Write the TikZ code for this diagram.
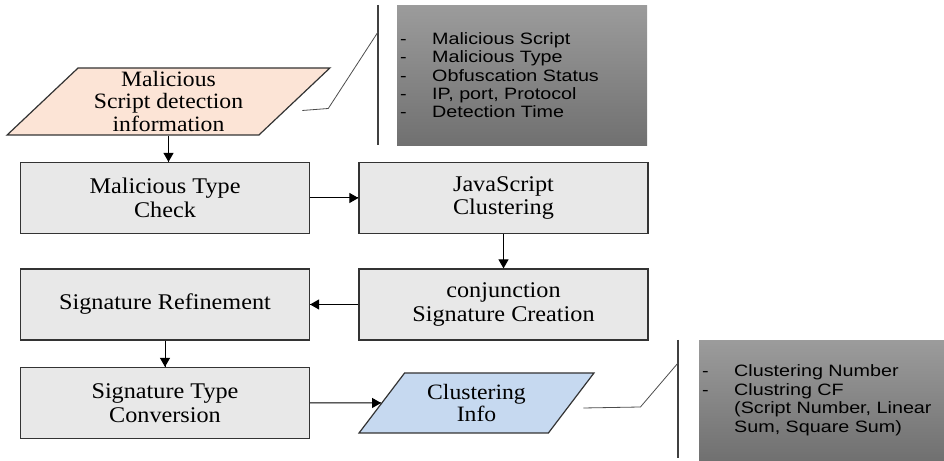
\documentclass[tikz,border=0pt]{standalone}
\usepackage{fontspec}
\setmainfont{Liberation Serif}[FakeStretch=1.08]
\newfontfamily\notefont{Liberation Sans}[FakeStretch=1.2]
\newcommand\itemdash{\makebox[32bp][l]{-}}
\definecolor{peach}{RGB}{252,228,214}
\definecolor{paleblue}{RGB}{198,217,240}
\tikzset{->/.style = {line width=1bp, decoration={markings, mark=at position 1 with {\arrow{Triangle[width=10bp,length=9bp]}}}, postaction={decorate}}}
\tikzset{box/.style = {draw=black!80, line width=1.2bp, fill=black!9, minimum width=289bp, minimum height=71bp, align=center, font=\fontsize{22.5}{24}\selectfont}}
\tikzset{slant/.style = {trapezium, trapezium stretches=true, draw=black!80, line width=1.2bp, inner sep=0pt, align=center, font=\fontsize{22}{23}\selectfont}}
\tikzset{note/.style = {top color=black!39, bottom color=black!56, anchor=north west, align=left, inner sep=3bp, font=\notefont\fontsize{16.5}{18.5}\selectfont}}
\tikzset{callout/.style = {draw=black!70, line width=0.8bp}}
\tikzset{bar/.style = {draw=black!75, line width=1.5bp}}
\usetikzlibrary{calc,shapes.geometric,arrows.meta,decorations.markings}

\begin{document}
\begin{tikzpicture}[x=1bp,y=1bp]
      \useasboundingbox (0,0) rectangle (944,461);
      \node [slant, fill=peach, trapezium left angle=46.3, trapezium right angle=133.7, minimum width=323bp, minimum height=67bp] (info) at (168.5,359.5) {Malicious\\Script detection\\information};
      \node [box] (mtc) at (165,263) {Malicious Type\\Check};
      \node [box] (jsc) at (503.5,263) {JavaScript\\Clustering};
      \node [box] (csc) at (503.5,156.5) {conjunction\\Signature Creation};
      \node [box] (sref) at (165,156.5) {Signature Refinement};
      \node [box] (stc) at (165,58) {Signature Type\\Conversion};
      \node [slant, fill=paleblue, trapezium left angle=50.8, trapezium right angle=129.2, minimum width=235bp, minimum height=60bp] (cinfo) at (476.5,58) {Clustering\\Info};
      \node [note, minimum width=250bp, minimum height=140bp, text width=244bp] (note1) at (397,456) {\itemdash Malicious Script\\\itemdash Malicious Type\\\itemdash Obfuscation Status\\\itemdash IP, port, Protocol\\\itemdash Detection Time};
      \node [note, minimum width=245bp, minimum height=120bp, text width=239bp] (note2) at (699,121) {\itemdash Clustering Number\\\itemdash Clustring CF\\\hspace*{32bp}(Script Number, Linear\\\hspace*{32bp}Sum, Square Sum)};
      \coordinate (tip1) at (378,429);
      \coordinate (tip2) at (678,98);
      \draw [bar] (378,456) -- (378,316);
      \draw [bar] (678,121) -- (678,3);
      \draw [callout] ([xshift=7bp,yshift=-9bp]info.east) -- ++(26,2) -- (tip1);
      \draw [callout] ([xshift=11.5bp,yshift=-5bp]cinfo.east) -- ++(57,1) -- (tip2);
      \draw [->] (info.south) -- (info.south |- mtc.north);
      \draw [->] (mtc) -- (jsc);
      \draw [->] (jsc) -- (csc);
      \draw [->] (csc) -- (sref);
      \draw [->] (sref) -- (stc);
      \draw [->] (stc) -- (cinfo);
    \end{tikzpicture}
\end{document}
